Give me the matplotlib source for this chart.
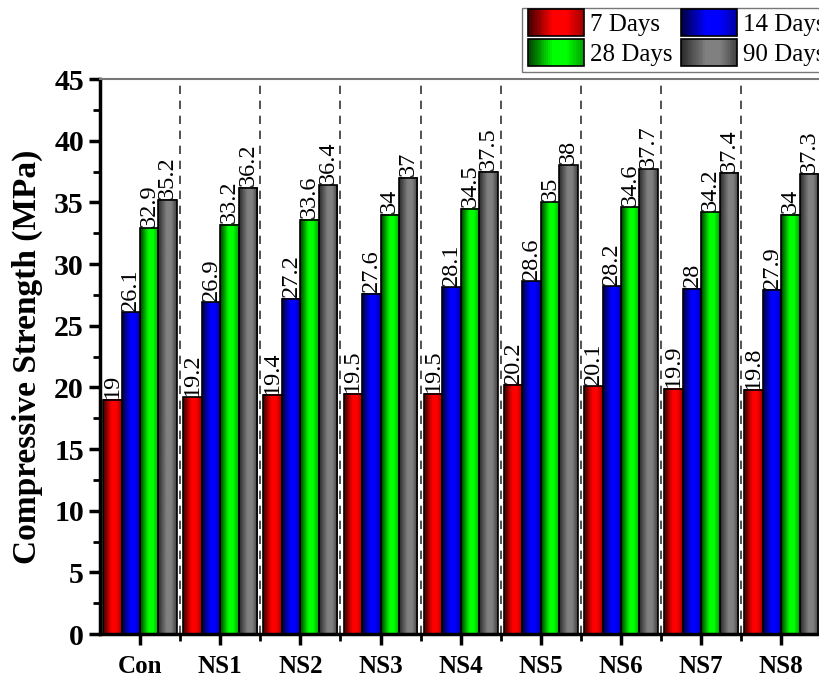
import numpy as np
import matplotlib
matplotlib.use("Agg")
import matplotlib.pyplot as plt
from matplotlib.colors import LinearSegmentedColormap
from matplotlib.patches import Rectangle
from matplotlib.legend_handler import HandlerBase
from matplotlib.ticker import MultipleLocator, FixedLocator

plt.rcParams['font.family'] = ['Liberation Serif', 'DejaVu Serif']

groups = ["Con", "NS1", "NS2", "NS3", "NS4", "NS5", "NS6", "NS7", "NS8"]
series = ["7 Days", "14 Days", "28 Days", "90 Days"]
days7 = [19, 19.2, 19.4, 19.5, 19.5, 20.2, 20.1, 19.9, 19.8]
days14 = [26.1, 26.9, 27.2, 27.6, 28.1, 28.6, 28.2, 28, 27.9]
days28 = [32.9, 33.2, 33.6, 34, 34.5, 35, 34.6, 34.2, 34]
days90 = [35.2, 36.2, 36.4, 37, 37.5, 38, 37.7, 37.4, 37.3]

# dark edge -> bright middle -> darker edge
shades = [
    ["#3a0000", "#ff0000", "#ff0000", "#a00000"],
    ["#000040", "#0000ff", "#0000ff", "#0000a0"],
    ["#003a00", "#00ff00", "#00ff00", "#00a000"],
    ["#2a2a2a", "#808080", "#808080", "#404040"],
]
cmaps = [LinearSegmentedColormap.from_list("c%d" % i, list(zip([0, 0.45, 0.7, 1], s)))
         for i, s in enumerate(shades)]

grad = np.linspace(0, 1, 64).reshape(1, -1)


class GradHandler(HandlerBase):
    def __init__(self, cmap):
        super().__init__()
        self.cmap = cmap

    def create_artists(self, legend, orig, xd, yd, w, h, fs, trans):
        arts = []
        n = 30
        hh = 1.08 * fs
        y0 = -yd + h / 2 - hh / 2
        for k in range(n):
            c = self.cmap((k + 0.5) / n)
            arts.append(Rectangle((-xd + w * k / n, y0), w / n, hh, facecolor=c,
                                  edgecolor='none', transform=trans))
        arts.append(Rectangle((-xd, y0), w, hh, facecolor='none', edgecolor='black',
                              lw=1.2, transform=trans))
        return arts


fig = plt.figure(figsize=(8.19, 6.77), dpi=100)
ax = fig.add_axes([0.122, 0.0635, 0.881, 0.8198])

values = [days7, days14, days28, days90]
x = np.arange(len(groups))
w = 0.23
for i, vals in enumerate(values):
    xs = x + (i - 1.5) * w
    for xc, v in zip(xs, vals):
        ax.imshow(grad, extent=[xc - w / 2, xc + w / 2, 0, v], aspect='auto',
                  cmap=cmaps[i], zorder=2, interpolation='bilinear')
        ax.text(xc, v + 0.1, "%g" % v, rotation=90, ha='center', va='bottom',
                fontsize=17.5, zorder=4)
    ax.bar(xs, vals, width=w, fill=False, edgecolor='black', lw=1.2, zorder=3)

for b in x[:-1] + 0.5:
    ax.axvline(b, color='#333333', ls=(0, (5, 4)), lw=1.2, zorder=1)

ax.set_xlim(-0.5, len(groups) - 0.5)
ax.set_ylim(0, 45)
ax.yaxis.set_major_locator(MultipleLocator(5))
ax.yaxis.set_minor_locator(MultipleLocator(2.5))
ax.set_xticks(x)
ax.set_xticklabels(groups, fontsize=18, fontweight='bold')
ax.xaxis.set_minor_locator(FixedLocator(x[:-1] + 0.5))
for lab in ax.get_yticklabels():
    lab.set_fontsize(21.5)
    lab.set_fontweight('bold')
ax.tick_params(axis='both', which='major', direction='out', length=8, width=2.5)
ax.tick_params(axis='both', which='minor', direction='out', length=5, width=2)
ax.tick_params(axis='x', pad=7)
ax.set_ylabel("Compressive Strength (MPa)", fontsize=24, fontweight='bold', labelpad=8)

ax.spines['left'].set_linewidth(2.5)
ax.spines['bottom'].set_linewidth(2.5)
ax.spines['top'].set_color('#777777')
ax.spines['top'].set_linewidth(1.5)
ax.spines['right'].set_visible(False)

# legend fills column-wise, so order gives rows 7/14 and 28/90
order = [0, 2, 1, 3]
handles = [Rectangle((0, 0), 1, 1) for _ in series]
fig.legend([handles[k] for k in order], [series[k] for k in order],
           loc='upper left', bbox_to_anchor=(522 / 819, 1 - 8 / 677), ncol=2,
           fontsize=18, frameon=True, fancybox=False, edgecolor='#555555',
           handlelength=2.24, handleheight=0.7, handletextpad=0.25, columnspacing=0.35,
           labelspacing=0.32, borderpad=0.22, borderaxespad=0,
           handler_map={h: GradHandler(c) for h, c in zip(handles, cmaps)})

fig.savefig("out.png", dpi=100)
